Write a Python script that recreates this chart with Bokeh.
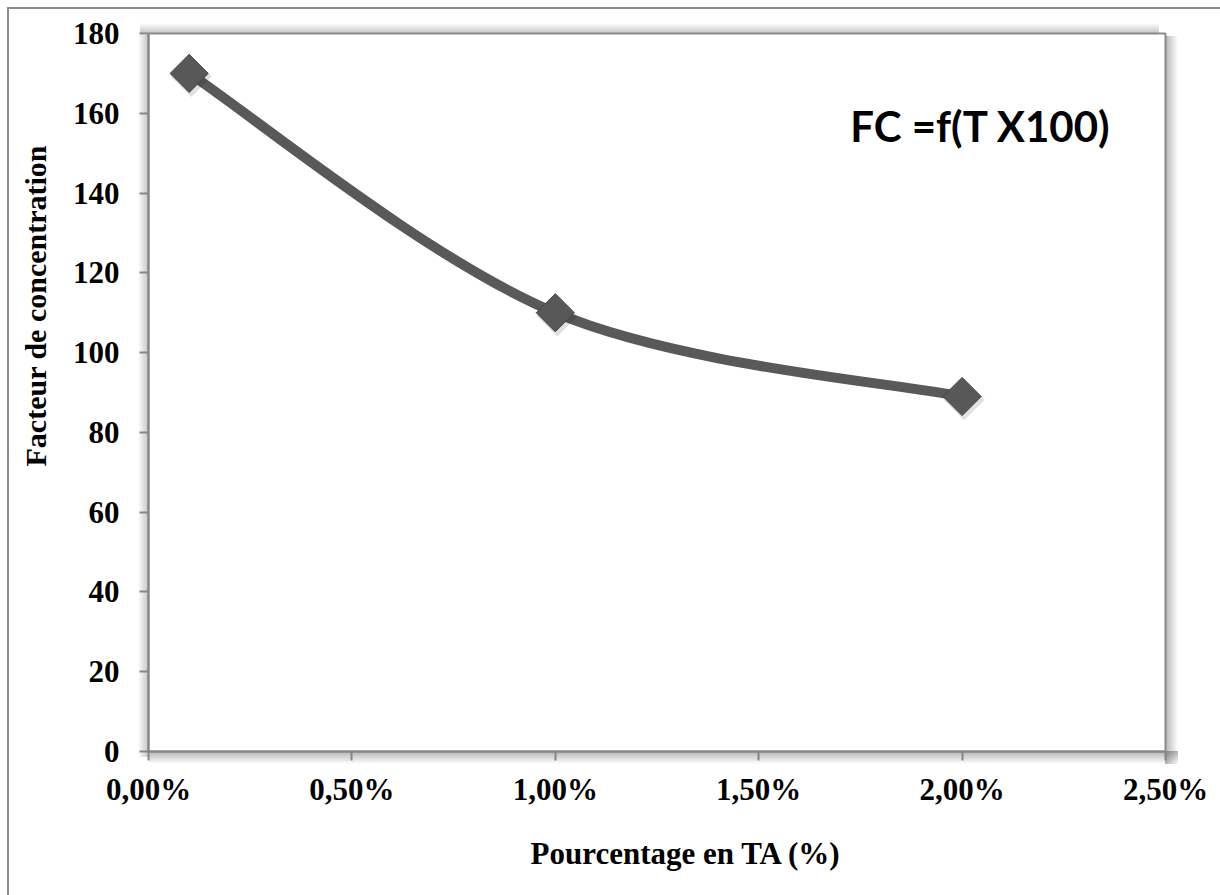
import numpy as np
from bokeh.plotting import figure
from bokeh.models import ColumnDataSource, FixedTicker, Label, Title
from bokeh.transform import dodge
from bokeh.embed import file_html
from bokeh.resources import INLINE

# ---- data ----
ta_percent = [0.1, 1.0, 2.0]          # Pourcentage en TA (%)
facteur = [170, 110, 89]              # Facteur de concentration
x_ticks = [0.0, 0.5, 1.0, 1.5, 2.0, 2.5]
x_tick_labels = ["0,00%", "0,50%", "1,00%", "1,50%", "2,00%", "2,50%"]
y_ticks = [0, 20, 40, 60, 80, 100, 120, 140, 160, 180]
title_text = "FC =f(T X100)"
x_title = "Pourcentage en TA (%)"
y_title = "Facteur de concentration"

W_FIG, H_FIG = 1220, 895
ML, MR, MT, MB = 148, 55, 33, 144
FR, FB = W_FIG - MR, H_FIG - MB   # frame right / bottom in page px

# page decoration: outer chart border (left/top) and soft shadow around plot area
layers = [
    ("linear-gradient(#8c8c8c,#8c8c8c)", "2px 100%", "7px 7px"),
    ("linear-gradient(#8c8c8c,#8c8c8c)", "100% 2px", "7px 7px"),
    ("linear-gradient(to right, rgba(0,0,0,0.30), rgba(0,0,0,0))", f"13px {FB - MT + 10}px", f"{FR}px {MT + 3}px"),
    ("linear-gradient(to bottom, rgba(0,0,0,0.30), rgba(0,0,0,0))", f"{FR - ML + 12}px 13px", f"{ML + 1}px {FB}px"),
    ("linear-gradient(to left, rgba(0,0,0,0.22), rgba(0,0,0,0))", f"10px {FB - MT + 4}px", f"{ML - 10}px {MT + 2}px"),
    ("linear-gradient(to top, rgba(0,0,0,0.22), rgba(0,0,0,0))", f"{FR - ML + 2}px 10px", f"{ML - 8}px {MT - 10}px"),
]
styles = {
    "background-color": "white",
    "background-image": ", ".join(l[0] for l in layers),
    "background-size": ", ".join(l[1] for l in layers),
    "background-position": ", ".join(l[2] for l in layers),
    "background-repeat": "no-repeat",
}

p = figure(width=W_FIG, height=H_FIG, x_range=(0, 2.5), y_range=(0, 180),
           output_backend="svg", toolbar_location=None,
           min_border_left=ML, min_border_right=MR,
           min_border_top=MT, min_border_bottom=MB, styles=styles)
p.grid.visible = False
p.background_fill_color = "white"
p.border_fill_color = None
p.outline_line_color = "#8c8c8c"
p.outline_line_width = 2

for ax in (p.xaxis[0], p.yaxis[0]):
    ax.axis_line_color = "#868686"
    ax.axis_line_width = 2
    ax.major_tick_line_color = "#868686"
    ax.major_tick_line_width = 2
    ax.major_tick_out = 9
    ax.major_tick_in = 0
    ax.minor_tick_line_color = None
    ax.major_label_text_font = "Liberation Serif"
    ax.major_label_text_font_style = "bold"
    ax.major_label_text_font_size = "31px"
    ax.major_label_text_color = "black"

p.xaxis.ticker = FixedTicker(ticks=x_ticks)
p.xaxis.major_label_overrides = {t: l for t, l in zip(x_ticks, x_tick_labels)}
p.xaxis.major_label_standoff = 11
p.yaxis.ticker = FixedTicker(ticks=y_ticks)
p.yaxis.major_label_standoff = 20

# ---- smoothed line (Catmull-Rom as cubic Bezier) ----
xs = np.array(ta_percent, dtype=float)
ys = np.array(facteur, dtype=float)
xp = np.concatenate([[xs[0]], xs, [xs[-1]]])
yp = np.concatenate([[ys[0]], ys, [ys[-1]]])
n = len(xs)
seg = dict(x0=[], y0=[], x1=[], y1=[], cx0=[], cy0=[], cx1=[], cy1=[])
for i in range(n - 1):
    seg["x0"].append(xp[i + 1]); seg["y0"].append(yp[i + 1])
    seg["x1"].append(xp[i + 2]); seg["y1"].append(yp[i + 2])
    seg["cx0"].append(xp[i + 1] + (xp[i + 2] - xp[i]) / 6)
    seg["cy0"].append(yp[i + 1] + (yp[i + 2] - yp[i]) / 6)
    seg["cx1"].append(xp[i + 2] - (xp[i + 3] - xp[i + 1]) / 6)
    seg["cy1"].append(yp[i + 2] - (yp[i + 3] - yp[i + 1]) / 6)
p.bezier(x0="x0", y0="y0", x1="x1", y1="y1", cx0="cx0", cy0="cy0", cx1="cx1", cy1="cy1",
         source=ColumnDataSource(seg), line_color="#595959", line_width=10, line_cap="round")

src = ColumnDataSource(dict(x=ta_percent, y=facteur))
p.scatter(x=dodge("x", 0.005, range=p.x_range), y=dodge("y", -0.8, range=p.y_range),
          source=src, marker="square", size=29, angle=np.pi / 4,
          fill_color="black", fill_alpha=0.12, line_color=None)
p.scatter("x", "y", source=src, marker="square", size=27, angle=np.pi / 4,
          fill_color="#585858", line_color="#454545", line_width=1)

# ---- texts ----
p.add_layout(Label(x=980 - ML, y=FB - 125, x_units="screen", y_units="screen",
                   text=title_text, text_align="center", text_baseline="alphabetic",
                   text_font="Lato", text_font_style="bold", text_font_size="42px",
                   text_color="black"))

p.add_layout(Title(text=x_title, align="left", offset=382, standoff=48,
                   text_font="Liberation Serif", text_font_style="bold",
                   text_font_size="31px", text_color="black"), "below")
p.add_layout(Title(text=y_title, align="left", offset=285, standoff=32,
                   vertical_align="top",
                   text_font="Liberation Serif", text_font_style="bold",
                   text_font_size="30px", text_color="black"), "left")

open("out.html", "w").write(file_html(p, INLINE))
